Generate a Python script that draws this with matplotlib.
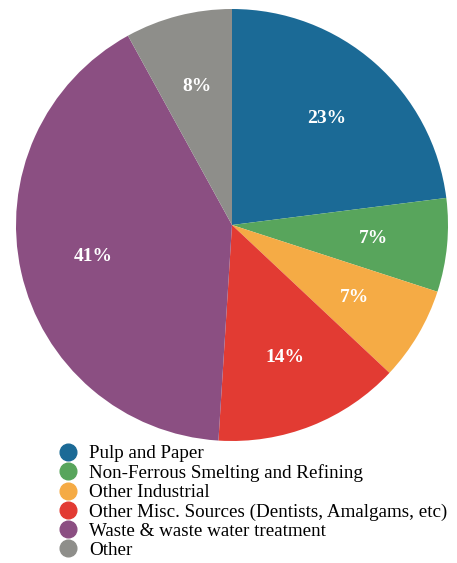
import matplotlib.pyplot as plt
from matplotlib.lines import Line2D

plt.rcParams['font.family'] = ['Liberation Serif', 'DejaVu Serif']

# data
labels = ['Pulp and Paper', 'Non-Ferrous Smelting and Refining', 'Other Industrial',
          'Other Misc. Sources (Dentists, Amalgams, etc)', 'Waste & waste water treatment', 'Other']
values = [23, 7, 7, 14, 41, 8]
colors = ['#1b6a96', '#58a55c', '#f5ab45', '#e23b33', '#8b4f82', '#8e8e8a']

fig = plt.figure(figsize=(4.57, 5.63), dpi=100)
# pie area: center ~ (232, 225) px, radius ~ 216 px
ax = fig.add_axes([(232 - 216) / 457, 1 - (225 + 216) / 563, 432 / 457, 432 / 563])
wedges, texts, autotexts = ax.pie(values, colors=colors, startangle=90, counterclock=False,
                                  autopct='%d%%', pctdistance=0.66,
                                  wedgeprops=dict(linewidth=0))
for t in autotexts:
    t.set_color('white')
    t.set_fontweight('bold')
    t.set_fontsize(14)
ax.set_xlim(-1.0, 1.0)
ax.set_ylim(-1.0, 1.0)
ax.set_aspect('equal')

handles = [Line2D([], [], marker='o', linestyle='', markersize=12, color=c) for c in colors]
fig.legend(handles, labels, loc='upper left', bbox_to_anchor=(58 / 457, 1 - 445 / 563),
           frameon=False, fontsize=13.7, handlelength=1.0, handletextpad=0.65,
           labelspacing=0.1, borderaxespad=0, borderpad=0)

fig.savefig('out.png', dpi=100)
